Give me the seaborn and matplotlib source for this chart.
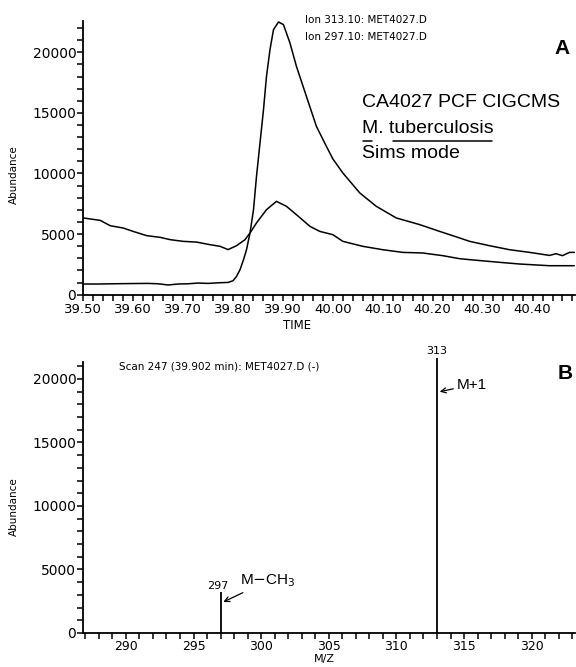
"""GC-MS ion chromatogram (A) and mass spectrum (B) for M. tuberculosis sample"""

import matplotlib
matplotlib.use("Agg")
import matplotlib.pyplot as plt
from matplotlib.ticker import MultipleLocator, FormatStrFormatter
import seaborn as sns
import pandas as pd


# ion 313.10 trace (big peak)
time_313 = [39.50, 39.53, 39.56, 39.60, 39.63, 39.65, 39.67, 39.69, 39.71, 39.73,
            39.75, 39.77, 39.79, 39.80, 39.807, 39.814, 39.821, 39.827, 39.834, 39.841,
            39.847, 39.854, 39.861, 39.867, 39.874, 39.881, 39.891, 39.901, 39.914, 39.927,
            39.947, 39.967, 39.987, 40.00, 40.02, 40.054, 40.087, 40.127, 40.174, 40.214,
            40.254, 40.274, 40.314, 40.354, 40.394, 40.434, 40.447, 40.46, 40.474, 40.484]
abund_313 = [880, 880, 900, 920, 930, 900, 800, 880, 900, 960,
             930, 980, 1010, 1150, 1510, 2060, 2890, 3710, 5090, 7010,
             9760, 12510, 15260, 18010, 20210, 21860, 22500, 22280, 20770, 18840,
             16360, 13890, 12240, 11200, 10040, 8390, 7290, 6330, 5780, 5220,
             4680, 4400, 4040, 3710, 3490, 3240, 3380, 3220, 3490, 3490]

# ion 297.10 trace
time_297 = [39.50, 39.534, 39.554, 39.58, 39.60, 39.627, 39.654, 39.674, 39.70, 39.727,
            39.754, 39.774, 39.79, 39.807, 39.824, 39.834, 39.847, 39.867, 39.887, 39.907,
            39.927, 39.954, 39.974, 40.00, 40.02, 40.06, 40.10, 40.14, 40.18, 40.22,
            40.254, 40.274, 40.334, 40.374, 40.434, 40.484]
abund_297 = [6330, 6130, 5690, 5500, 5220, 4870, 4730, 4540, 4400, 4340,
             4125, 3990, 3720, 4040, 4540, 5090, 5920, 7010, 7700, 7290,
             6600, 5640, 5220, 4950, 4400, 3990, 3710, 3490, 3440, 3220,
             2970, 2890, 2670, 2530, 2390, 2390]

# mass spectrum scan 247
mz = [297, 313]
mz_abund = [3230, 21650]

sns.set_style("ticks")
plt.rcParams['font.family'] = ['DejaVu Sans']
plt.rcParams.update({'text.color': 'black', 'axes.labelcolor': 'black',
                     'xtick.color': 'black', 'ytick.color': 'black',
                     'axes.edgecolor': 'black'})

fig = plt.figure(figsize=(5.76, 6.67), dpi=100)
axA = fig.add_axes([0.1446, 0.5582, 0.8536, 0.4103])
axB = fig.add_axes([0.1446, 0.0510, 0.8536, 0.4063])

# ---- panel A: ion chromatograms
df = pd.concat([
    pd.DataFrame({'time': time_313, 'abundance': abund_313, 'ion': '313.10'}),
    pd.DataFrame({'time': time_297, 'abundance': abund_297, 'ion': '297.10'}),
])
sns.lineplot(data=df, x='time', y='abundance', units='ion', estimator=None,
             color='black', linewidth=1.1, sort=False, ax=axA)
axA.set_xlim(39.5, 40.485)
axA.set_ylim(0, 22580)
axA.xaxis.set_major_locator(MultipleLocator(0.1))
axA.xaxis.set_minor_locator(MultipleLocator(0.02))
axA.xaxis.set_major_formatter(FormatStrFormatter('%.2f'))
axA.set_xlabel('TIME', fontsize=8.5)
axA.xaxis.set_label_coords(0.435, -0.088)

axA.text(0.451, 1.004, 'Ion 313.10: MET4027.D', transform=axA.transAxes,
         fontsize=7.5, va='center', ha='left')
axA.text(0.451, 0.941, 'Ion 297.10: MET4027.D', transform=axA.transAxes,
         fontsize=7.5, va='center', ha='left')
axA.text(0.974, 0.901, 'A', transform=axA.transAxes, fontsize=15,
         fontweight='black', ha='center', va='center', family='Liberation Sans')
axA.text(0.567, 0.704, 'CA4027 PCF CIGCMS', transform=axA.transAxes,
         fontsize=14, va='center', ha='left', family='Liberation Sans')
axA.text(0.567, 0.609, 'M. tuberculosis', transform=axA.transAxes,
         fontsize=14, va='center', ha='left', family='Liberation Sans')
axA.text(0.567, 0.515, 'Sims mode', transform=axA.transAxes,
         fontsize=14, va='center', ha='left', family='Liberation Sans')
axA.plot([0.569, 0.588], [0.562, 0.562], color='black', lw=1.1,
         transform=axA.transAxes, clip_on=False)
axA.plot([0.630, 0.831], [0.562, 0.562], color='black', lw=1.1,
         transform=axA.transAxes, clip_on=False)

# ---- panel B: mass spectrum
axB.vlines(mz, 0, mz_abund, color='black', linewidth=1.3, clip_on=False)
axB.set_xlim(286.85, 323.2)
axB.set_ylim(0, 21340)
axB.xaxis.set_major_locator(MultipleLocator(5))
axB.xaxis.set_minor_locator(MultipleLocator(1))

axB.text(0.0726, 0.982, 'Scan 247 (39.902 min): MET4027.D (-)',
         transform=axB.transAxes, fontsize=7.5, va='center', ha='left')
axB.text(0.981, 0.959, 'B', transform=axB.transAxes, fontsize=15,
         fontweight='black', ha='center', va='center', family='Liberation Sans')
axB.text(313, 22200, '313', fontsize=8, ha='center', va='center', clip_on=False)
axB.text(296.8, 3700, '297', fontsize=8, ha='center', va='center')
axB.annotate('M$-$CH$_3$', xy=(297.2, 2440), xytext=(298.4, 4090),
             fontsize=11, va='center', ha='left', family='Liberation Sans',
             arrowprops=dict(arrowstyle='->', lw=0.9, shrinkA=0, shrinkB=0,
                             mutation_scale=9, color='black'))
axB.annotate('M+1', xy=(313.2, 19000), xytext=(314.45, 19530),
             fontsize=11, va='center', ha='left', family='Liberation Sans',
             arrowprops=dict(arrowstyle='->', lw=0.9, shrinkA=0, shrinkB=0,
                             mutation_scale=9, color='black'))

for ax, ylab_y in [(axA, 0.437), (axB, 0.465)]:
    ax.yaxis.set_major_locator(MultipleLocator(5000))
    ax.yaxis.set_minor_locator(MultipleLocator(1000))
    ax.tick_params(which='both', direction='out', length=4, width=1.1, pad=2)
    ax.tick_params(axis='y', labelsize=10, pad=1)
    ax.tick_params(axis='x', labelsize=9.5)
    ax.set_ylabel('Abundance', fontsize=7.5)
    ax.yaxis.set_label_coords(-0.13, ylab_y)
    for s in ['top', 'right']:
        ax.spines[s].set_visible(False)
    for s in ['left', 'bottom']:
        ax.spines[s].set_linewidth(1.3)

# tighter x labels in panel B so M/Z fits at the bottom
axB.tick_params(axis='x', labelsize=9, pad=1)
axB.set_xlabel('M/Z', fontsize=8)
axB.xaxis.set_label_coords(0.491, -0.079)

fig.savefig('out.png', dpi=100)
